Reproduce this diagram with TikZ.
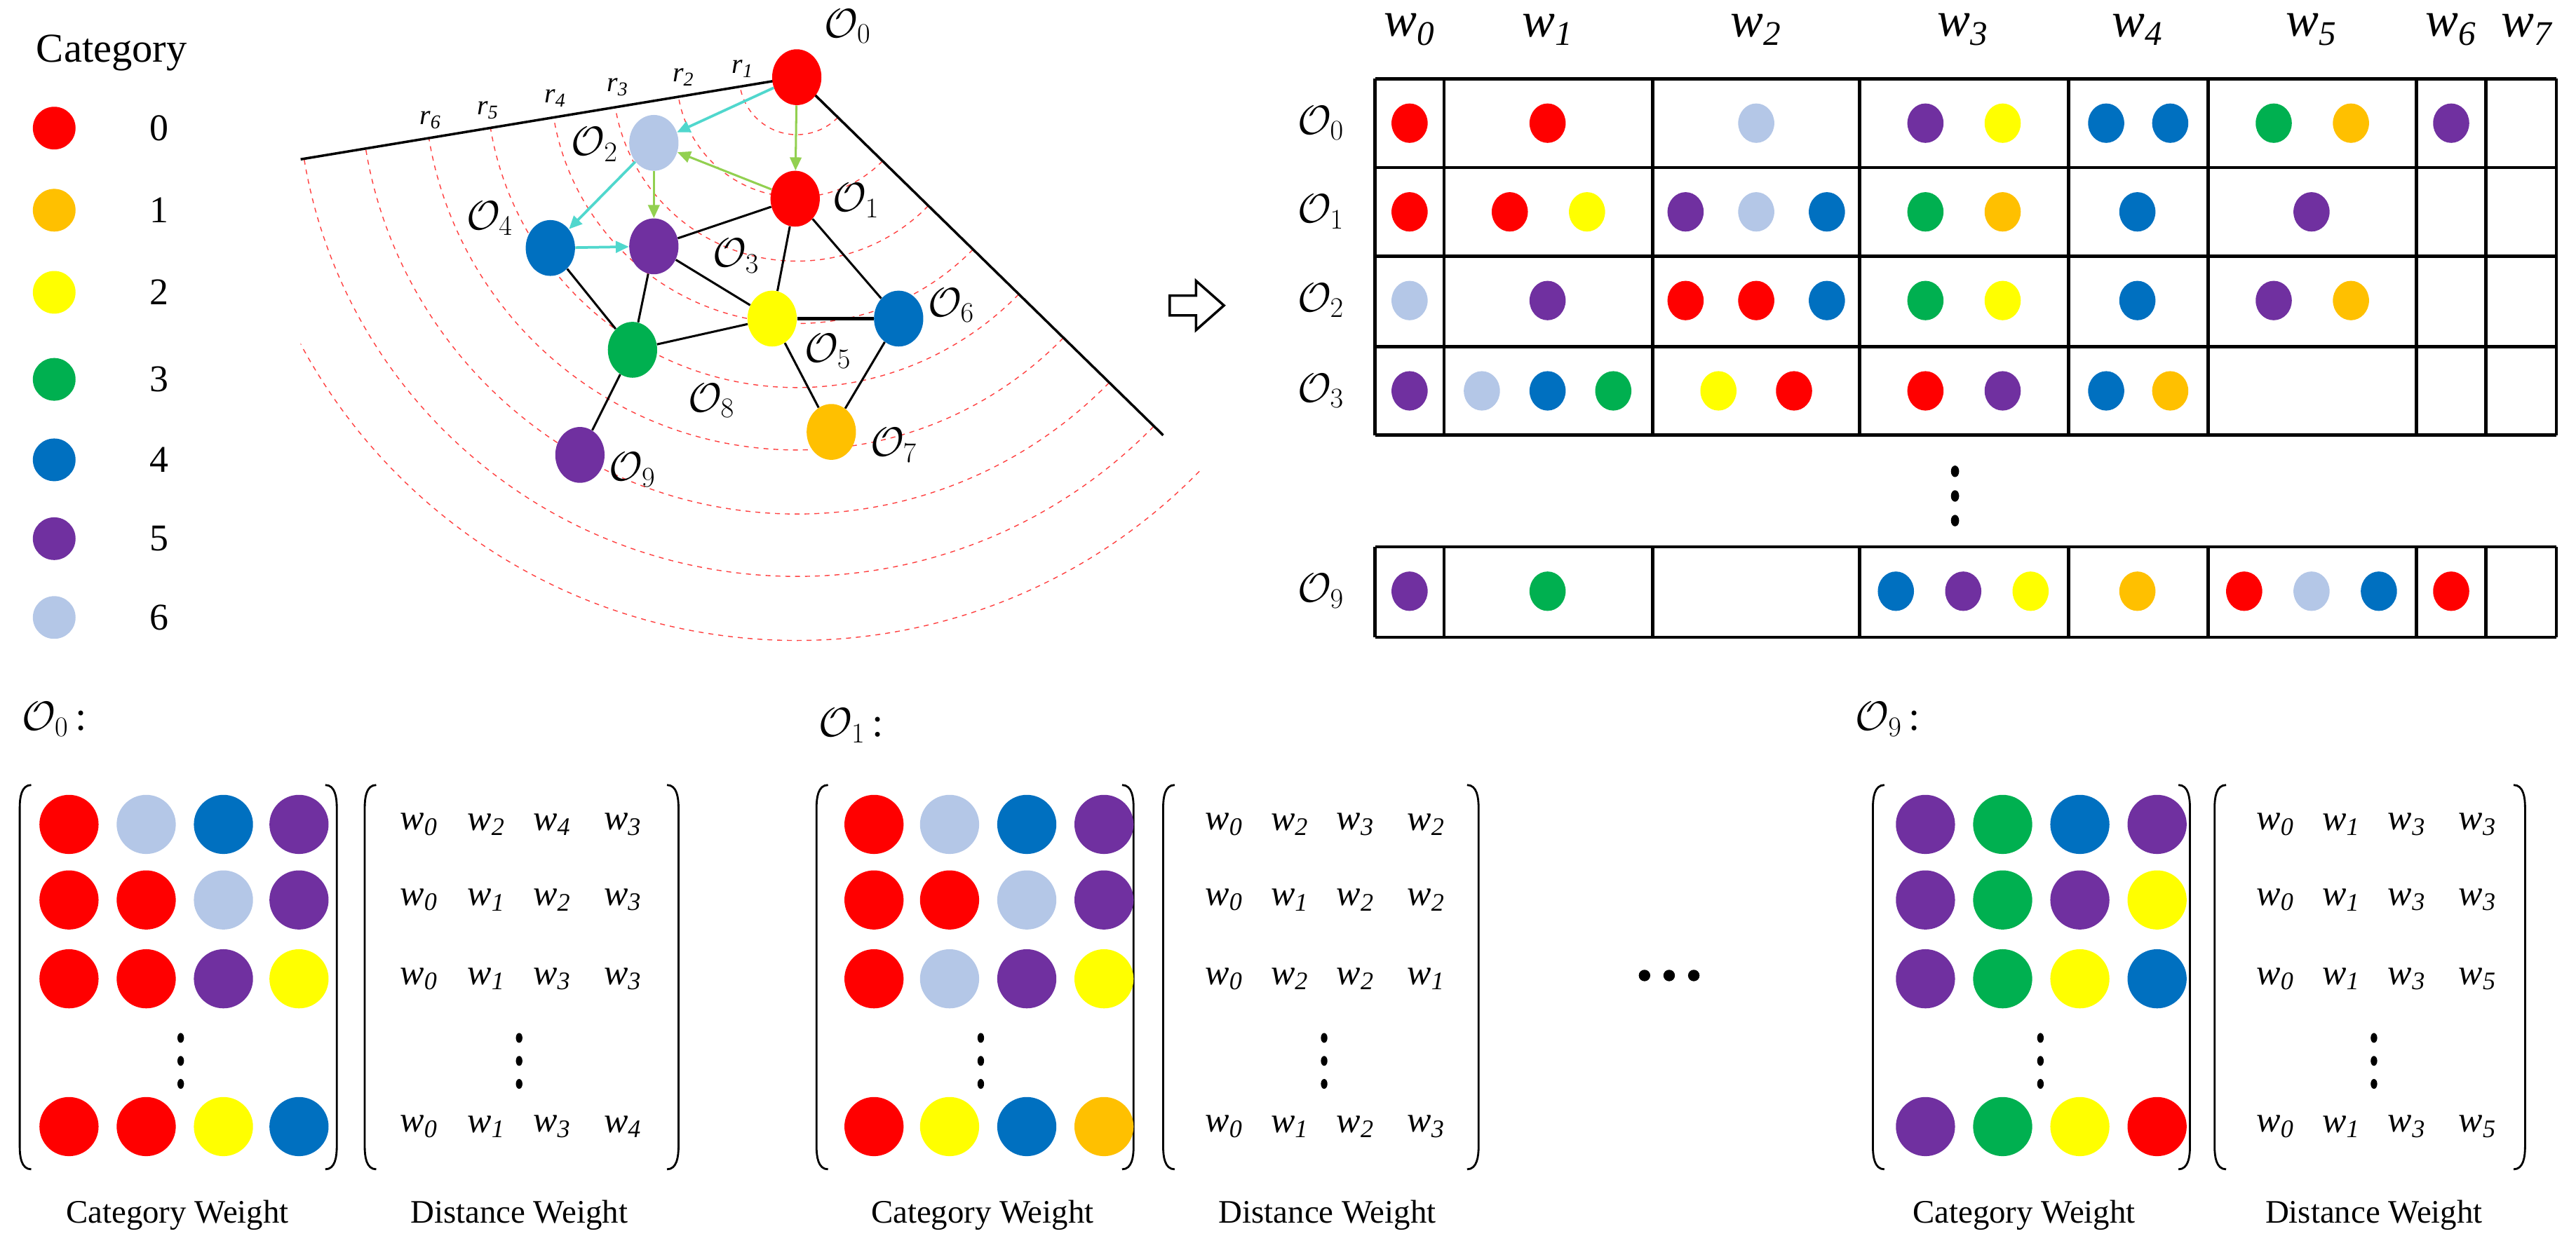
\documentclass[tikz,border=0pt]{standalone}
\usepackage{fontspec}
\setmainfont{Liberation Serif}
\usetikzlibrary{arrows.meta}

\definecolor{cR}{RGB}{255,0,0}
\definecolor{cO}{RGB}{255,192,0}
\definecolor{cY}{RGB}{255,255,0}
\definecolor{cG}{RGB}{0,176,80}
\definecolor{cB}{RGB}{0,112,192}
\definecolor{cP}{RGB}{112,48,160}
\definecolor{cL}{RGB}{180,199,231}
\definecolor{arcy}{RGB}{80,215,205}
\definecolor{arg}{RGB}{146,208,80}

\newcommand{\wk}[1]{\textit{w\textsubscript{#1}}}
\newcommand{\ob}[1]{$\mathcal{O}_{#1}$}

\tikzset{
  gnode/.style={ellipse, minimum width=30pt, minimum height=34pt, inner sep=0pt},
  glab/.style={font=\fontsize{27}{30}\selectfont},
  edge/.style={line width=1.3pt},
  cyarrow/.style={draw=arcy, line width=1.6pt, -{Triangle[length=8pt,width=7pt]}},
  grarrow/.style={draw=arg, line width=1.3pt, -{Triangle[length=8pt,width=7pt]}},
  ring/.style={draw=red!75, dashed, line width=0.6pt},
  tline/.style={line width=2pt},
  bigw/.style={font=\fontsize{30}{34}\selectfont},
  smallw/.style={font=\fontsize{22}{26}\selectfont},
  capt/.style={font=\fontsize{20}{24}\selectfont},
}
\usetikzlibrary{shapes.geometric}

\begin{document}
\begin{tikzpicture}[x=1pt, y=-1pt]
\useasboundingbox (0,0) rectangle (1568,761);

% legend
\node[font=\fontsize{25}{28}\selectfont] (cat) at (68,32) {Category};
\foreach \c/\y/\n in {cR/78/0, cO/128/1, cY/178/2, cG/231/3, cB/280/4, cP/328/5, cL/376/6}{
  \fill[\c] (33,\y) circle [radius=13];
  \node[font=\fontsize{23}{26}\selectfont] (leg\n) at (97,\y) {\n};
}

% rings round O0
\coordinate (cen) at (485,47);
\begin{scope}
\clip (183,0) rectangle (760,400);
\foreach \r in {35,73,112,150,189,227,266,304,343}
  \draw[ring] (cen) ++(44.4:\r) arc [start angle=44.4, end angle=170.6, radius=\r];
\end{scope}
\coordinate (lend) at (183,97);
\coordinate (rend) at (708,265);
\draw[line width=1.5pt] (lend) -- (cen) -- (rend);
\foreach \i/\x/\y in {1/452/42, 2/416/47, 3/376/53, 4/338/60, 5/297/67, 6/262/73}
  \node[font=\fontsize{17}{20}\selectfont\itshape] (r\i) at (\x,\y) {r\textsubscript{\i}};

% graph
\node[gnode, fill=cR] (o0) at (485,47) {};
\node[gnode, fill=cL] (o2) at (398,87) {};
\node[gnode, fill=cR] (o1) at (484,121) {};
\node[gnode, fill=cB] (o4) at (335,151) {};
\node[gnode, fill=cP] (o3) at (398,150) {};
\node[gnode, fill=cY] (o5) at (470,194) {};
\node[gnode, fill=cB] (o6) at (547,194) {};
\node[gnode, fill=cG] (o8) at (385,213) {};
\node[gnode, fill=cO] (o7) at (506,263) {};
\node[gnode, fill=cP] (o9) at (353,277) {};

\draw[edge] (o1) -- (o3);
\draw[edge] (o1) -- (o5);
\draw[edge] (o1) -- (o6);
\draw[edge] (o3) -- (o5);
\draw[edge, line width=2pt] (o5) -- (o6);
\draw[edge] (o5) -- (o8);
\draw[edge] (o5) -- (o7);
\draw[edge] (o6) -- (o7);
\draw[edge] (o3) -- (o8);
\draw[edge] (o4) -- (o8);
\draw[edge] (o8) -- (o9);
\draw[cyarrow] (o0) -- (o2);
\draw[grarrow] (o0) -- (o1);
\draw[grarrow] (o1) -- (o2);
\draw[cyarrow] (o2) -- (o4);
\draw[grarrow] (o2) -- (o3);
\draw[cyarrow] (o4) -- (o3);

\node[glab] (l0) at (516,16) {\ob{0}};
\node[glab] (l1) at (521,122) {\ob{1}};
\node[glab] (l2) at (362,88) {\ob{2}};
\node[glab] (l3) at (448,156) {\ob{3}};
\node[glab] (l4) at (298,133) {\ob{4}};
\node[glab] (l5) at (504,214) {\ob{5}};
\node[glab] (l6) at (579,186) {\ob{6}};
\node[glab] (l7) at (544,271) {\ob{7}};
\node[glab] (l8) at (433,244) {\ob{8}};
\node[glab] (l9) at (385,286) {\ob{9}};

% hollow arrow
\draw[line width=1.5pt] (712,180) -- (728,180) -- (728,171) -- (745,186) -- (728,201) -- (728,192) -- (712,192) -- cycle;

% table
\foreach \x/\i in {858/0, 942/1, 1069/2, 1195/3, 1301/4, 1407/5, 1492/6, 1538/7}
  \node[bigw] (w\i) at (\x,18) {\wk{\i}};
\foreach \y in {48,102,156,211,265}
  \draw[tline] (837,\y) -- (1556,\y);
\foreach \x in {837,879,1006,1132,1259,1344,1471,1513,1556}{
  \draw[tline] (\x,48) -- (\x,265);
  \draw[tline] (\x,333) -- (\x,388);
}
\draw[tline] (837,333) -- (1556,333);
\draw[tline] (837,388) -- (1556,388);
\foreach \y/\i in {75/0, 129/1, 183/2, 238/3, 360/9}
  \node[font=\fontsize{25}{28}\selectfont] (row\i) at (804,\y) {\ob{\i}};
\foreach \x/\c in {858/cR, 942/cR, 1069/cL, 1172/cP, 1219/cY, 1282/cB, 1321/cB, 1384/cG, 1431/cO, 1492/cP}
  \fill[\c] (\x,75) ellipse [x radius=11, y radius=12];
\foreach \x/\c in {858/cR, 919/cR, 966/cY, 1026/cP, 1069/cL, 1112/cB, 1172/cG, 1219/cO, 1301/cB, 1407/cP}
  \fill[\c] (\x,129) ellipse [x radius=11, y radius=12];
\foreach \x/\c in {858/cL, 942/cP, 1026/cR, 1069/cR, 1112/cB, 1172/cG, 1219/cY, 1301/cB, 1384/cP, 1431/cO}
  \fill[\c] (\x,183) ellipse [x radius=11, y radius=12];
\foreach \x/\c in {858/cP, 902/cL, 942/cB, 982/cG, 1046/cY, 1092/cR, 1172/cR, 1219/cP, 1282/cB, 1321/cO}
  \fill[\c] (\x,238) ellipse [x radius=11, y radius=12];
\foreach \x/\c in {858/cP, 942/cG, 1154/cB, 1195/cP, 1236/cY, 1301/cO, 1366/cR, 1407/cL, 1448/cB, 1492/cR}
  \fill[\c] (\x,360) ellipse [x radius=11, y radius=12];
\foreach \y in {287,302,317}
  \fill (1190,\y) ellipse [x radius=2.5, y radius=3.5];

% weight matrices
\node[font=\fontsize{25}{28}\selectfont, anchor=west] (m0) at (10,438) {\ob{0}\,:};
\node[font=\fontsize{25}{28}\selectfont, anchor=west] (m1) at (495,442) {\ob{1}\,:};
\node[font=\fontsize{25}{28}\selectfont, anchor=west] (m9) at (1126,438) {\ob{9}\,:};
\foreach \x in {1001,1016,1031}
  \fill (\x,594) circle [radius=3.5];

\foreach \xa/\xb in {12/205, 222/413, 497/690, 708/900, 1140/1333, 1348/1537}{
  \draw[line width=1.2pt] (\xa+7,478) to[out=180,in=90] (\xa,492) -- (\xa,698) to[out=-90,in=180] (\xa+7,712);
  \draw[line width=1.2pt] (\xb-7,478) to[out=0,in=90] (\xb,492) -- (\xb,698) to[out=-90,in=0] (\xb-7,712);
}

% category dots
\foreach \x/\a/\b/\c/\d in {42/cR/cR/cR/cR, 89/cL/cR/cR/cR, 136/cB/cL/cP/cY, 182/cP/cP/cY/cB,
  532/cR/cR/cR/cR, 578/cL/cR/cL/cY, 625/cB/cL/cP/cB, 672/cP/cP/cY/cO,
  1172/cP/cP/cP/cP, 1219/cG/cG/cG/cG, 1266/cB/cP/cY/cY, 1313/cP/cY/cB/cR}{
  \fill[\a] (\x,502) circle [radius=18];
  \fill[\b] (\x,548) circle [radius=18];
  \fill[\c] (\x,596) circle [radius=18];
  \fill[\d] (\x,686) circle [radius=18];
}
\foreach \x in {110,597,1242,316,806,1445}
  \foreach \y in {632,646,660}
    \fill (\x,\y) ellipse [x radius=2, y radius=3];

% distance entries
\foreach \x/\a/\b/\c/\d in {255/0/0/0/0, 296/2/1/1/1, 336/4/2/3/3, 379/3/3/3/4,
  745/0/0/0/0, 785/2/1/2/1, 825/3/2/2/2, 868/2/2/1/3,
  1385/0/0/0/0, 1425/1/1/1/1, 1465/3/3/3/3, 1508/3/3/5/5}{
  \node[smallw] at (\x,502) {\wk{\a}};
  \node[smallw] at (\x,548) {\wk{\b}};
  \node[smallw] at (\x,596) {\wk{\c}};
  \node[smallw] at (\x,686) {\wk{\d}};
}

\foreach \x/\t in {108/Category Weight, 316/Distance Weight, 598/Category Weight, 808/Distance Weight, 1232/Category Weight, 1445/Distance Weight}
  \node[capt] at (\x,740) {\t};
\end{tikzpicture}
\end{document}
